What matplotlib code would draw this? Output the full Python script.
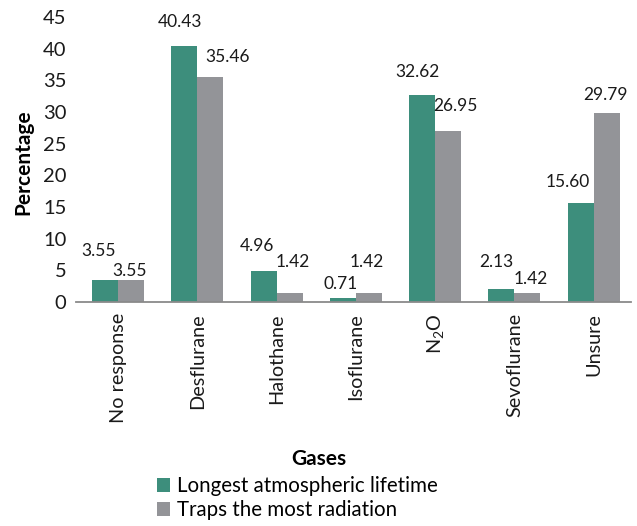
import numpy as np
import matplotlib
matplotlib.use('Agg')
import matplotlib.pyplot as plt

plt.rcParams['font.family'] = ['Lato', 'DejaVu Sans']
plt.rcParams['mathtext.default'] = 'regular'

gases = ['No response', 'Desflurane', 'Halothane', 'Isoflurane', 'N$_2$O', 'Sevoflurane', 'Unsure']
longest = [3.55, 40.43, 4.96, 0.71, 32.62, 2.13, 15.60]
traps = [3.55, 35.46, 1.42, 1.42, 26.95, 1.42, 29.79]
series_names = ['Longest atmospheric lifetime', 'Traps the most radiation']

# label offsets (pixels) from each bar top, as in the source figure
off_green = [(-6, 29), (-4, 24), (-7, 25), (-2, 14), (-5, 23), (-5, 27), (-13, 21)]
off_gray = [(-1, 9), (17, 20), (3, 31), (-2, 31), (7, 25), (3, 14), (-1, 18)]

green = '#3d8e7c'
gray = '#939498'

fig = plt.figure(figsize=(6.37, 5.26), dpi=100)
ax = fig.add_axes([76/637, 224/526, 555/637, 285/526])

x = np.arange(len(gases))
w = 0.328
b1 = ax.bar(x - w/2, longest, w, color=green, label=series_names[0])
b2 = ax.bar(x + w/2, traps, w, color=gray, label=series_names[1])

for bars, vals, offs in [(b1, longest, off_green), (b2, traps, off_gray)]:
    for r, v, (dx, dy) in zip(bars, vals, offs):
        ax.annotate('%.2f' % v, (r.get_x() + r.get_width()/2, v),
                    xytext=(dx, dy), textcoords='offset pixels',
                    ha='center', va='center', fontsize=12.5, color='#1a1a1a')

ax.set_xlim(-0.53, 6.47)
ax.set_ylim(0, 45)
ax.set_yticks(range(0, 46, 5))
ax.set_xticks(x)
ax.set_xticklabels(gases, rotation=90, fontsize=14.3)
ax.tick_params(axis='y', labelsize=14.5)
ax.tick_params(axis='both', length=0, colors='#1a1a1a')
ax.tick_params(axis='x', pad=8)
ax.tick_params(axis='y', pad=7)
for s in ['top', 'right', 'left']:
    ax.spines[s].set_visible(False)
ax.spines['bottom'].set_color('#8a8a8a')
ax.spines['bottom'].set_linewidth(1.3)

ax.set_xlabel('Gases', fontsize=15, fontweight='bold')
ax.xaxis.set_label_coords(0.438, -0.515)
ax.set_ylabel('Percentage', fontsize=15, fontweight='bold')
ax.yaxis.set_label_coords(-0.077, 0.49)

fig.legend(handles=[b1, b2], loc='upper left', bbox_to_anchor=(157/637, 1 - 476/526),
           frameon=False, fontsize=14.8, handlelength=0.65, handleheight=0.65,
           handletextpad=0.3, labelspacing=0.2, borderaxespad=0, borderpad=0)

fig.savefig('out.png', dpi=100)
